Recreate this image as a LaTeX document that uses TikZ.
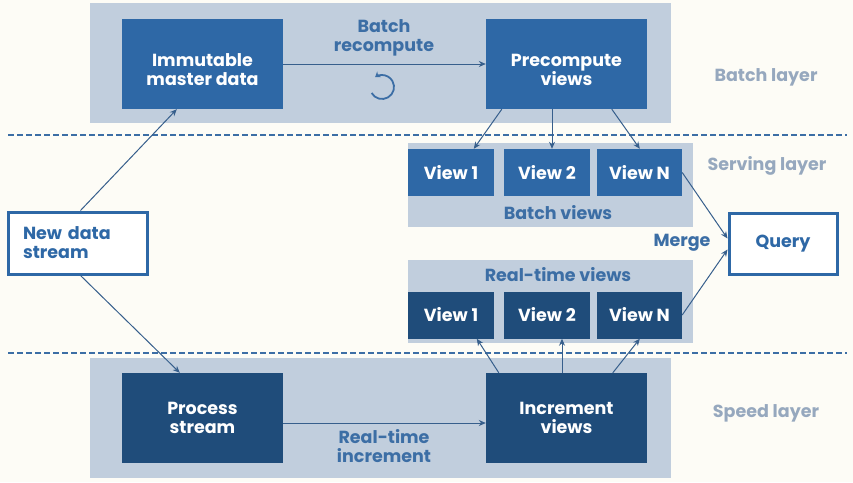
\documentclass[tikz,border=0pt]{standalone}
\usepackage{fontspec}
\setmainfont{Poppins}
\usetikzlibrary{arrows.meta}
\definecolor{bgc}{RGB}{253,252,246}
\definecolor{batchc}{RGB}{46,104,166}
\definecolor{speedc}{RGB}{31,76,122}
\definecolor{panelc}{RGB}{193,206,221}
\definecolor{linec}{RGB}{55,95,140}
\definecolor{labc}{RGB}{60,110,165}
\definecolor{layc}{RGB}{150,168,190}
\tikzset{
  boxfont/.style={font=\bfseries\fontsize{17.5}{19}\selectfont},
  bigbox/.style={minimum width=161pt, minimum height=90pt, inner sep=0pt},
  boxtext/.style={boxfont, text=white, align=center, inner sep=0pt},
  batchbox/.style={bigbox, fill=batchc},
  speedbox/.style={bigbox, fill=speedc, boxtext},
  viewbox/.style={boxfont, text=white, minimum width=86pt, minimum height=47pt, inner sep=0pt},
  bview/.style={viewbox, fill=batchc},
  rview/.style={viewbox, fill=speedc},
  panel/.style={fill=panelc},
  lab/.style={boxfont, text=labc, align=center},
  layerlab/.style={boxfont, text=layc},
  outbox/.style={boxfont, draw=batchc, line width=3pt, fill=white, text=batchc, inner sep=0pt},
  arr/.style={draw=linec, line width=1pt, -{Stealth[length=7pt,width=6pt]}},
  sep/.style={draw=labc, line width=1.5pt, dash pattern=on 6pt off 3pt},
}
\begin{document}
\begin{tikzpicture}[x=1pt,y=-1pt]
\useasboundingbox (0,0) rectangle (853,482);
\fill[bgc] (0,0) rectangle (853,482);
% panels
\fill[panel] (90,3) rectangle (671,123);
\fill[panel] (90,358) rectangle (671,478);
\fill[panel] (408,143) rectangle (693,227);
\fill[panel] (408,260) rectangle (693,343);
% separators
\coordinate (s1a) at (8,135); \coordinate (s1b) at (847,135);
\coordinate (s2a) at (8,353); \coordinate (s2b) at (847,353);
\draw[sep] (s1a) -- (s1b);
\draw[sep] (s2a) -- (s2b);
% main boxes
\node[batchbox] (imm) at (202.5,64) {};
\node[boxtext] (immt) at ([yshift=-6pt]imm.center) {Immutable\\master data};
\node[batchbox] (pre) at (566.5,64) {};
\node[boxtext] (pret) at ([yshift=-6pt]pre.center) {Precompute\\views};
\node[speedbox] (proc) at (202.5,418) {Process\\stream};
\node[speedbox] (inc) at (566.5,418) {Increment\\views};
% views
\node[bview] (bv1) at (451,172.5) {View 1};
\node[bview] (bv2) at (547,172.5) {View 2};
\node[bview, minimum width=85pt] (bvN) at (639.5,172.5) {View N};
\node[rview] (rv1) at (451,315) {View 1};
\node[rview] (rv2) at (547,315) {View 2};
\node[rview, minimum width=85pt] (rvN) at (639.5,315) {View N};
% labels
\node[lab] (bvl) at (558,213) {Batch views};
\node[lab] (rvl) at (558,275) {Real-time views};
\node[lab] (brl) at (384,38) {Batch\\recompute};
\node[lab] (ril) at (384,446) {Real-time\\increment};
\node[lab] (mrg) at (682,243) {Merge};
\node[layerlab] (bl) at (766,77) {Batch layer};
\node[layerlab] (sl) at (767,166) {Serving layer};
\node[layerlab] (spl) at (766,413) {Speed layer};
% outer boxes
\node[outbox, minimum width=108pt, minimum height=61pt] (q) at (783,243.5) {Query};
\node[outbox, minimum width=139pt, minimum height=62pt, text width=109pt, align=left, inner xsep=15pt] (nds) at (77.5,243) {New data\\stream};
% recompute icon
\coordinate (ic) at (382,87);
\draw[draw=labc, line width=1.8pt, -{Stealth[length=5pt,width=7pt]}] ([shift={(210:12pt)}]ic) arc[start angle=210, end angle=485, radius=12pt];
% connectors
\draw[arr] (imm.east) -- (pre.west);
\draw[arr] ([yshift=-5pt]proc.east) -- ([yshift=-5pt]inc.west);
\draw[arr] ([xshift=74pt]nds.north west) -- ([xshift=55pt]imm.south west);
\draw[arr] ([xshift=74pt]nds.south west) -- ([xshift=58pt]proc.north west);
\draw[arr] ([xshift=16pt]pre.south west) -- ([xshift=66pt]bv1.north west);
\draw[arr] ([xshift=-14.5pt]pre.south) -- ([xshift=5pt]bv2.north);
\draw[arr] ([xshift=126pt]pre.south west) -- ([xshift=43pt]bvN.north west);
\draw[arr] ([xshift=13pt]inc.north west) -- ([xshift=69pt]rv1.south west);
\draw[arr] ([xshift=-4.5pt]inc.north) -- ([xshift=15pt]rv2.south);
\draw[arr] ([xshift=127pt]inc.north west) -- ([xshift=43pt]rvN.south west);
\draw[arr] (bvN.east) -- ([yshift=5pt]q.west);
\draw[arr] (rvN.east) -- ([yshift=-6pt]q.west);
\end{tikzpicture}
\end{document}
